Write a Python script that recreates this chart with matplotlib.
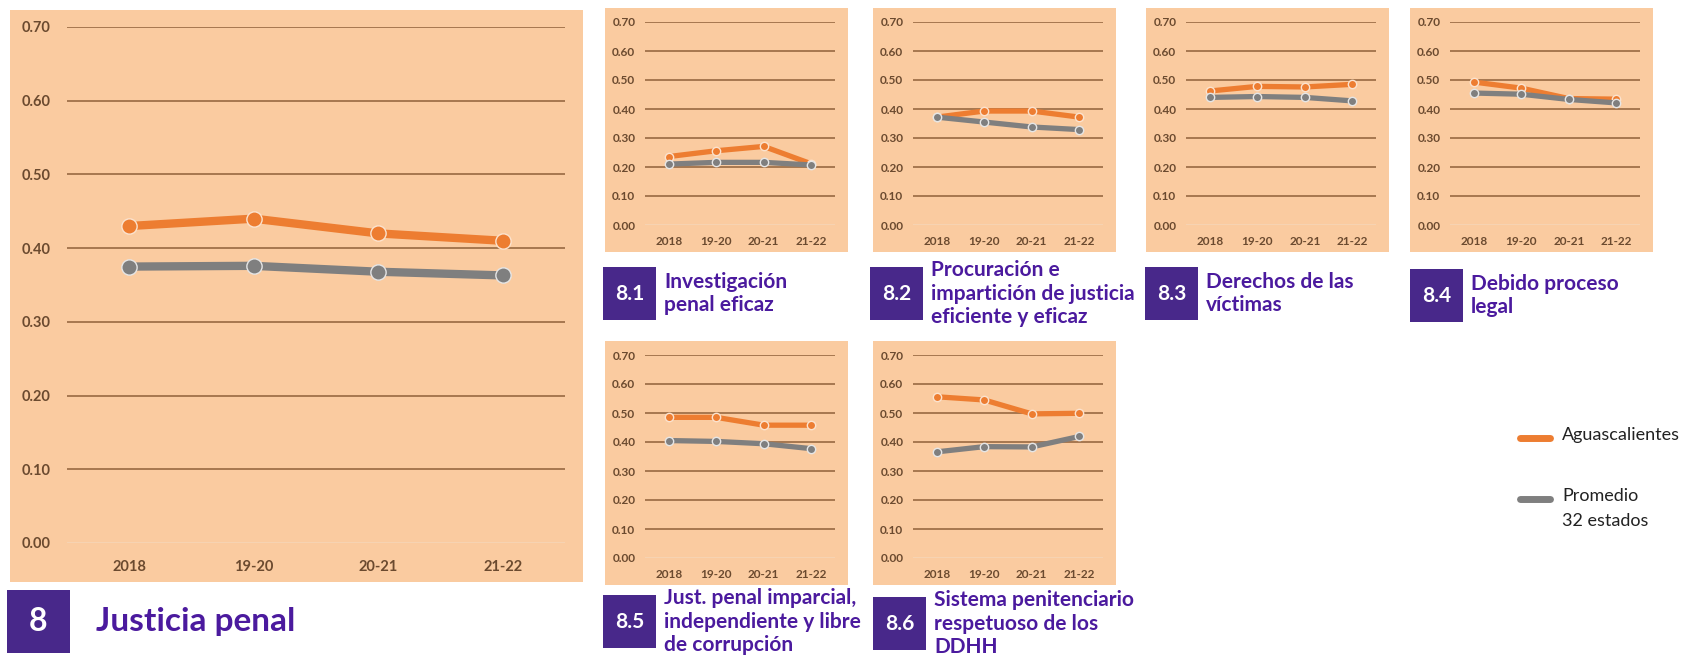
import matplotlib
matplotlib.use('Agg')
import matplotlib.pyplot as plt
from matplotlib.patches import Rectangle
from matplotlib.lines import Line2D

W, H = 1682, 655

periods = ['2018', '19-20', '20-21', '21-22']
y_ticks = [0.0, 0.1, 0.2, 0.3, 0.4, 0.5, 0.6, 0.7]
series_names = ['Aguascalientes', 'Promedio\n32 estados']

# pilar 8 (main chart)
ags_8 = [0.430, 0.440, 0.420, 0.410]
prom_8 = [0.375, 0.376, 0.368, 0.363]

# sub-pillars
ags_81 = [0.236, 0.256, 0.271, 0.211]
prom_81 = [0.210, 0.216, 0.216, 0.207]
ags_82 = [0.372, 0.393, 0.393, 0.372]
prom_82 = [0.372, 0.355, 0.338, 0.329]
ags_83 = [0.462, 0.478, 0.476, 0.485]
prom_83 = [0.440, 0.443, 0.440, 0.428]
ags_84 = [0.493, 0.472, 0.436, 0.434]
prom_84 = [0.455, 0.451, 0.433, 0.421]
ags_85 = [0.485, 0.485, 0.458, 0.458]
prom_85 = [0.405, 0.402, 0.394, 0.377]
ags_86 = [0.556, 0.545, 0.497, 0.499]
prom_86 = [0.366, 0.384, 0.383, 0.419]

main_code = '8'
main_title = 'Justicia penal'
sub_codes = ['8.1', '8.2', '8.3', '8.4', '8.5', '8.6']
sub_titles = [
    'Investigación\npenal eficaz',
    'Procuración e\nimpartición de justicia\neficiente y eficaz',
    'Derechos de las\nvíctimas',
    'Debido proceso\nlegal',
    'Just. penal imparcial,\nindependiente y libre\nde corrupción',
    'Sistema penitenciario\nrespetuoso de los\nDDHH',
]
sub_ags = [ags_81, ags_82, ags_83, ags_84, ags_85, ags_86]
sub_prom = [prom_81, prom_82, prom_83, prom_84, prom_85, prom_86]

PEACH = '#FACBA0'
ORANGE = '#ED7D31'
GRAY = '#7F7F7F'
GRID = '#8F6139'
GRID0 = '#F6D6B8'
TICK = '#6B4A2F'
BOX = '#48288A'
PURPLE = '#4B1A9E'
FONT = ['Lato', 'DejaVu Sans']

plt.rcParams['font.family'] = FONT


def fig_rect(x0, y0, x1, y1):
    # pixel box (top-left origin) -> figure fraction rect
    return [x0 / W, 1 - y1 / H, (x1 - x0) / W, (y1 - y0) / H]


def add_box(fig, x0, y0, x1, y1, color):
    r = fig_rect(x0, y0, x1, y1)
    fig.add_artist(Rectangle((r[0], r[1]), r[2], r[3], transform=fig.transFigure,
                             facecolor=color, edgecolor='none', zorder=-1))


def line_chart(fig, rect, ags, prom, lw, ms, fs, xpad, ypad):
    ax = fig.add_axes(fig_rect(*rect))
    ax.set_facecolor('none')
    x = list(range(len(periods)))
    ax.plot(x, ags, color=ORANGE, lw=lw, marker='o', ms=ms, mfc=ORANGE,
            mec='#FBE3CF', mew=1.0, clip_on=False, zorder=3, solid_capstyle='butt')
    ax.plot(x, prom, color=GRAY, lw=lw, marker='o', ms=ms, mfc=GRAY,
            mec='#E6E6E6', mew=1.0, clip_on=False, zorder=4, solid_capstyle='butt')
    ax.set_xlim(-0.5, len(periods) - 0.5)
    ax.set_ylim(0, 0.70)
    ax.set_xticks(x)
    ax.set_xticklabels(periods)
    ax.set_yticks(y_ticks)
    ax.set_yticklabels([f'{v:.2f}' for v in y_ticks])
    ax.tick_params(length=0, labelsize=fs, labelcolor=TICK)
    ax.tick_params(axis='x', pad=xpad)
    ax.tick_params(axis='y', pad=ypad)
    for lab in ax.get_xticklabels() + ax.get_yticklabels():
        lab.set_fontweight('bold')
    ax.grid(axis='y', color=GRID, lw=1.1)
    ax.yaxis.get_gridlines()[0].set_color(GRID0)
    for s in ax.spines.values():
        s.set_visible(False)
    return ax


def label(fig, x0, y0, size, code, title, code_fs, title_fs, gap, ls=1.2):
    add_box(fig, x0, y0, x0 + size, y0 + size, BOX)
    yc = 1 - (y0 + size / 2) / H
    fig.text((x0 + size / 2) / W, yc, code, color='white', ha='center', va='center',
             fontsize=code_fs, fontweight='bold')
    fig.text((x0 + size + gap) / W, yc, title, color=PURPLE, ha='left', va='center',
             fontsize=title_fs, fontweight='bold', linespacing=ls)


fig = plt.figure(figsize=(W / 100, H / 100), dpi=100)
fig.patch.set_facecolor('white')

# main panel
add_box(fig, 10, 10, 583, 582, PEACH)
line_chart(fig, (67, 27, 565, 543), ags_8, prom_8, lw=6, ms=11, fs=10.5, xpad=12, ypad=12)
label(fig, 7, 590, 63, main_code, main_title, 23, 24, 26)

# sub panels: (panel left, panel top) ; axes inset inside each panel
sub_panels = [(605, 8), (873, 8), (1146, 8), (1410, 8), (605, 341), (873, 341)]
sub_boxes = [(603, 267), (870, 267), (1145, 267), (1410, 269), (603, 595), (873, 597)]
for i, (px, py) in enumerate(sub_panels):
    add_box(fig, px, py, px + 243, py + 244, PEACH)
    line_chart(fig, (px + 40, py + 14, px + 230, py + 217), sub_ags[i], sub_prom[i],
               lw=3.8, ms=6, fs=8.5, xpad=8, ypad=7)
    bx, by = sub_boxes[i]
    label(fig, bx, by, 53, sub_codes[i], sub_titles[i], 15, 15, 8)

# legend
leg_rows = [(438, ORANGE), (499, GRAY)]
for (ly, col), name in zip(leg_rows, series_names):
    fig.add_artist(Line2D([1520 / W, 1550 / W], [1 - ly / H, 1 - ly / H], color=col, lw=5,
                          solid_capstyle='round', transform=fig.transFigure))
    fig.text(1562 / W, 1 - (ly - 11) / H, name, ha='left', va='top', fontsize=13,
             color='#222222', linespacing=1.7)

fig.savefig('out.png', dpi=100, facecolor='white')
